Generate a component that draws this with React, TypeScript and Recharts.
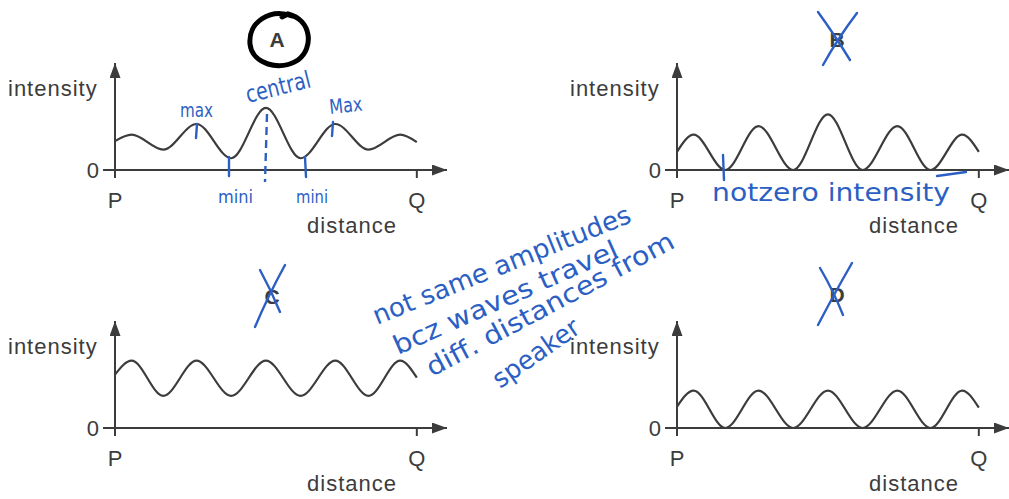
import React from "react";
import { LineChart, Line, XAxis, YAxis, Label } from "recharts";

// positions along P→Q (P = 0, Q = 10)
const distance = [0, 0.55, 1.6, 2.7, 3.85, 5, 6.15, 7.3, 8.4, 9.45, 10];

// intensity (axis top = 100)
const intensityA = [27, 33, 19, 43, 11, 58, 11, 43, 19, 33, 26];
const intensityB = [17, 33, 0, 41, 0, 52, 0, 41, 0, 33, 17];
const intensityC = [50, 63, 30, 63, 30, 63, 30, 63, 30, 63, 47];
const intensityD = [20, 35, 0, 35, 0, 35, 0, 35, 0, 35, 19];

const xTicks = [0, 10];
const xTickNames = ["P", "Q"];
const yTicks = [0];

const INK = "#3c3c3c";
const PEN = "#2c5fc3";
const FONT = '"Liberation Sans", Arial, sans-serif';
const HAND = '"DejaVu Sans", sans-serif';

function Panel({ id, values, left, top }: { id: string; values: number[]; left: number; top: number }) {
  const rows = distance.map((d, i) => ({ d, v: values[i] }));
  return (
    <div style={{ position: "absolute", left, top }}>
      <LineChart width={448} height={250} data={rows} margin={{ top: 63, right: 1, bottom: 20, left: 85 }}>
        <defs>
          <marker
            id={`arrow-${id}`}
            viewBox="0 0 15 11"
            refX="15"
            refY="5.5"
            markerWidth="15"
            markerHeight="11"
            markerUnits="userSpaceOnUse"
            orient="auto-start-reverse"
          >
            <path d="M0,0 L15,5.5 L0,11 z" fill={INK} />
          </marker>
        </defs>
        <XAxis
          dataKey="d"
          type="number"
          domain={[0, 11]}
          ticks={xTicks}
          tickFormatter={(t: number) => xTickNames[xTicks.indexOf(t)]}
          height={60}
          tickSize={8}
          tickMargin={14}
          axisLine={{ stroke: INK, strokeWidth: 2, markerEnd: `url(#arrow-${id})` }}
          tickLine={{ stroke: INK, strokeWidth: 2 }}
          tick={{ fill: INK, fontSize: 22, fontFamily: FONT }}
        >
          <Label
            content={({ viewBox }: any) => (
              <text x={viewBox.x + 237} y={viewBox.y + 63} textAnchor="middle" fill={INK} fontSize={22} letterSpacing={1} fontFamily={FONT}>
                distance
              </text>
            )}
          />
        </XAxis>
        <YAxis
          type="number"
          domain={[0, 100]}
          ticks={yTicks}
          width={30}
          tickSize={12}
          tickMargin={4}
          axisLine={{ stroke: INK, strokeWidth: 2, markerStart: `url(#arrow-${id})` }}
          tickLine={{ stroke: INK, strokeWidth: 2 }}
          tick={{ fill: INK, fontSize: 22, fontFamily: FONT }}
        >
          <Label
            content={({ viewBox }: any) => (
              <text x={viewBox.x + viewBox.width - 107} y={viewBox.y + 33} fill={INK} fontSize={22} letterSpacing={1} fontFamily={FONT}>
                intensity
              </text>
            )}
          />
        </YAxis>
        <Line dataKey="v" type="monotone" stroke={INK} strokeWidth={2.2} dot={false} isAnimationActive={false} />
      </LineChart>
    </div>
  );
}

function Scribbles() {
  const pen = { stroke: PEN, strokeWidth: 2.4, strokeLinecap: "round" as const, fill: "none" };
  const hand = { fill: PEN, fontFamily: HAND, lengthAdjust: "spacingAndGlyphs" as const };
  return (
    <svg width={1009} height={499} style={{ position: "absolute", left: 0, top: 0, pointerEvents: "none" }}>
      {/* panel letters */}
      <g fill={INK} fontFamily={FONT} fontWeight="bold" fontSize={21} textAnchor="middle">
        <text x={277} y={47}>A</text>
        <text x={837} y={47}>B</text>
        <text x={272} y={304}>C</text>
        <text x={837} y={302}>D</text>
      </g>
      <path d="M292,16 C270,8 248,22 250,44 C252,64 280,72 298,60 C314,48 312,20 288,14 L282,17" stroke="#000" strokeWidth={5} fill="none" strokeLinecap="round" />

      {/* A notes */}
      <text {...hand} x={180} y={117} fontSize={20} textLength={33}>max</text>
      <line {...pen} x1={197} y1={124} x2={196} y2={138} />
      <text {...hand} x={248} y={103} fontSize={24} textLength={66} transform="rotate(-14 248 103)">central</text>
      <line {...pen} x1={267} y1={114} x2={265} y2={182} strokeDasharray="8 5" strokeLinecap="butt" />
      <text {...hand} x={330} y={114} fontSize={20} textLength={33} transform="rotate(-6 330 114)">Max</text>
      <line {...pen} x1={333} y1={122} x2={332} y2={136} />
      <line {...pen} x1={229} y1={157} x2={229} y2={176} />
      <line {...pen} x1={305} y1={157} x2={306} y2={177} />
      <text {...hand} x={218} y={203} fontSize={18} textLength={35}>mini</text>
      <text {...hand} x={296} y={203} fontSize={18} textLength={32}>mini</text>

      {/* B notes */}
      <path {...pen} d="M818,12 Q834,34 850,60" />
      <path {...pen} d="M857,13 Q838,38 823,65" />
      <line {...pen} x1={723} y1={155} x2={724} y2={180} />
      <text {...hand} x={712} y={201} fontSize={24} textLength={238}>notzero intensity</text>
      <line {...pen} x1={937} y1={176} x2={966} y2={172} />

      {/* C and D crosses */}
      <path {...pen} d="M260,270 Q271,290 280,312" />
      <path {...pen} d="M285,265 Q268,296 255,327" />
      <path {...pen} d="M820,268 Q833,290 843,315" />
      <path {...pen} d="M852,263 Q833,296 818,325" />

      {/* middle note */}
      <text {...hand} x={377} y={325} fontSize={26} textLength={276} transform="rotate(-22 377 325)">not same amplitudes</text>
      <text {...hand} x={398} y={355} fontSize={26} textLength={243} transform="rotate(-24 398 355)">bcz waves travel</text>
      <text {...hand} x={432} y={377} fontSize={26} textLength={277} transform="rotate(-28 432 377)">diff. distances from</text>
      <text {...hand} x={500} y={389} fontSize={26} textLength={100} transform="rotate(-35 500 389)">speaker</text>
    </svg>
  );
}

export default function App() {
  return (
    <div style={{ position: "fixed", left: 0, top: 0, width: 1009, height: 499, background: "#fff", overflow: "hidden" }}>
      <Panel id="a" values={intensityA} left={0} top={0} />
      <Panel id="b" values={intensityB} left={562} top={0} />
      <Panel id="c" values={intensityC} left={0} top={258} />
      <Panel id="d" values={intensityD} left={562} top={258} />
      <Scribbles />
    </div>
  );
}
